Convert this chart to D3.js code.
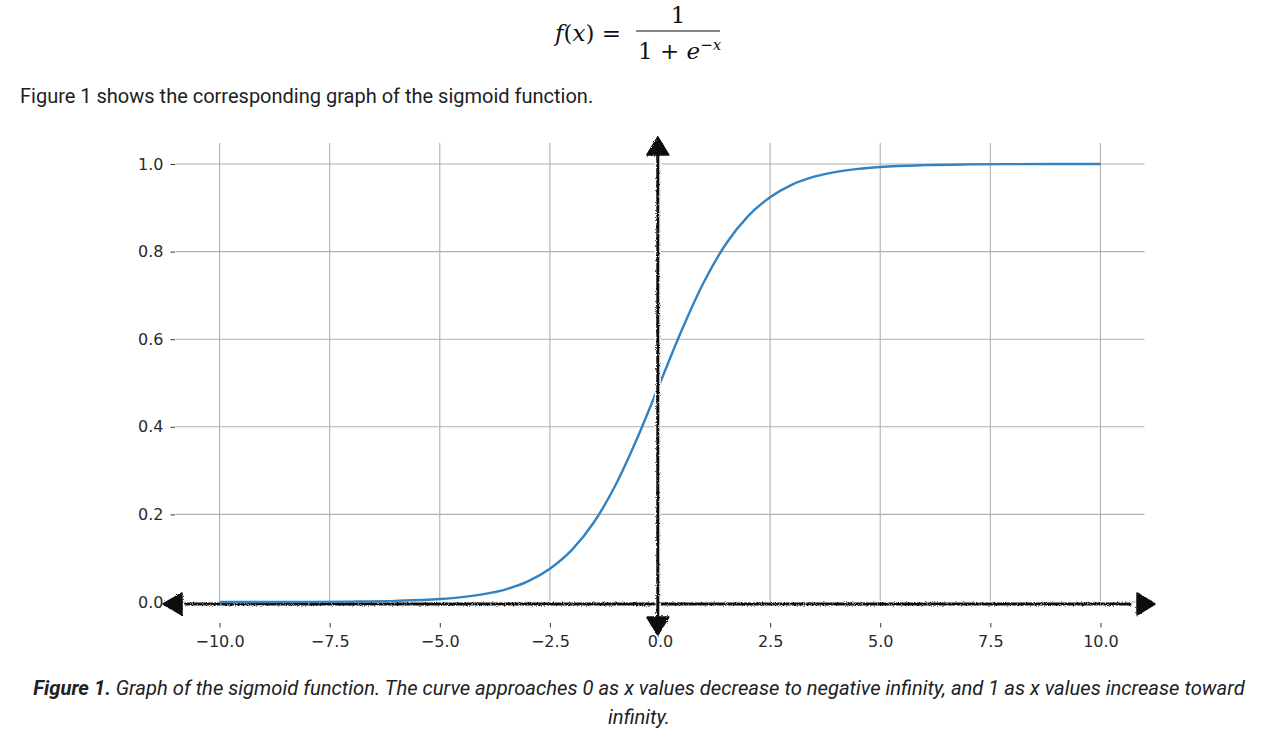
<!DOCTYPE html>
<html lang="en">
    <head>
        <meta charset="utf-8" />
        <title>Sigmoid</title>
        <script src="https://cdn.jsdelivr.net/npm/d3@7/dist/d3.min.js"></script>
        <style type="text/css">
            body { margin: 0; background: #fff; }
            svg { display: block; }
        </style>
    </head>
    <body>
        <script type="text/javascript">
            // values
            var xs = [-10, -9, -8, -7, -6, -5, -4.5, -4, -3.5, -3, -2.5, -2, -1.5, -1, -0.5, 0,
                      0.5, 1, 1.5, 2, 2.5, 3, 3.5, 4, 4.5, 5, 6, 7, 8, 9, 10];
            var ys = [0.0000, 0.0001, 0.0003, 0.0009, 0.0025, 0.0067, 0.011, 0.018, 0.029, 0.047, 0.076, 0.119, 0.182, 0.269, 0.378, 0.500,
                      0.622, 0.731, 0.818, 0.881, 0.924, 0.953, 0.971, 0.982, 0.989, 0.9933, 0.9975, 0.9991, 0.9997, 0.9999, 1.0000];
            var xTicks = [-10, -7.5, -5, -2.5, 0, 2.5, 5, 7.5, 10];
            var yTicks = [0, 0.2, 0.4, 0.6, 0.8, 1.0];

            var W = 1261, H = 736;
            var svg = d3.select("body").append("svg")
                .attr("width", W)
                .attr("height", H);

            // formula
            var fx = svg.append("g")
                .style("font-family", "'DejaVu Serif', 'Liberation Serif', serif")
                .style("font-size", "23px")
                .attr("fill", "#111");
            fx.append("text").attr("x", 555).attr("y", 41)
                .html("<tspan font-style='italic'>f</tspan>(<tspan font-style='italic'>x</tspan>) =");
            fx.append("line").attr("x1", 636).attr("x2", 720).attr("y1", 31).attr("y2", 31)
                .attr("stroke", "#111").attr("stroke-width", 1.2);
            fx.append("text").attr("x", 678).attr("y", 23).attr("text-anchor", "middle").text("1");
            var den = fx.append("text").attr("x", 638).attr("y", 59);
            den.append("tspan").text("1 + ");
            den.append("tspan").attr("font-style", "italic").text("e");
            den.append("tspan").attr("dy", -9).style("font-size", "15px").text("−");
            den.append("tspan").style("font-size", "15px").attr("font-style", "italic").text("x");

            // intro line
            svg.append("text")
                .attr("x", 20).attr("y", 103)
                .style("font-family", "Roboto, sans-serif")
                .style("font-size", "20px")
                .attr("fill", "#202124")
                .text("Figure 1 shows the corresponding graph of the sigmoid function.");

            // chart
            var x = d3.scaleLinear().domain([-11, 11]).range([175.5, 1144.5]);
            var y = d3.scaleLinear().domain([0, 1]).range([602, 164]);
            var gridTop = 143, gridBottom = 606;

            var grid = svg.append("g").attr("stroke", "#b0b0b0").attr("stroke-width", 1.1);
            grid.selectAll(".gx").data(xTicks).enter().append("line")
                .attr("x1", function (d) { return x(d); })
                .attr("x2", function (d) { return x(d); })
                .attr("y1", gridTop).attr("y2", gridBottom);
            grid.selectAll(".gy").data(yTicks).enter().append("line")
                .attr("x1", x(-11)).attr("x2", x(11))
                .attr("y1", function (d) { return y(d); })
                .attr("y2", function (d) { return y(d); });

            var fmt = d3.format(".1f");
            var xAxis = svg.append("g")
                .attr("transform", "translate(0,623)")
                .call(d3.axisBottom(x).tickValues(xTicks).tickSize(4.5).tickPadding(8)
                    .tickFormat(function (d) { return fmt(d).replace("-", "−"); }));
            var yAxis = svg.append("g")
                .attr("transform", "translate(175,0)")
                .call(d3.axisLeft(y).tickValues(yTicks).tickSize(4.5).tickPadding(7).tickFormat(fmt));
            [xAxis, yAxis].forEach(function (a) {
                a.select(".domain").remove();
                a.selectAll("line").attr("stroke", "#333");
                a.selectAll("text")
                    .attr("fill", "#2a2a2a")
                    .style("font-family", "'DejaVu Sans', sans-serif")
                    .style("font-size", "16px");
            });

            // sigmoid curve
            var pts = xs.map(function (v, i) { return [v, ys[i]]; });
            var line = d3.line()
                .x(function (d) { return x(d[0]); })
                .y(function (d) { return y(d[1]); })
                .curve(d3.curveMonotoneX);

            // sketchy black axes with arrows
            var defs = svg.append("defs");
            var f = defs.append("filter").attr("id", "rough")
                .attr("filterUnits", "userSpaceOnUse")
                .attr("x", 0).attr("y", 0).attr("width", W).attr("height", H);
            f.append("feTurbulence").attr("type", "fractalNoise").attr("baseFrequency", 0.9)
                .attr("numOctaves", 2).attr("result", "n");
            f.append("feDisplacementMap").attr("in", "SourceGraphic").attr("in2", "n")
                .attr("scale", 3);

            var ax = svg.append("g").attr("filter", "url(#rough)");
            var x0 = x(-10.8), x1 = x(10.7), y0 = y(0) + 2;
            var vx = x(-0.05), vt = y(1.04), vb = y(-0.06);
            // white halo
            ax.append("line").attr("x1", x0).attr("x2", x1).attr("y1", y0).attr("y2", y0)
                .attr("stroke", "#fff").attr("stroke-width", 6);
            ax.append("line").attr("x1", x0).attr("x2", x1).attr("y1", y0).attr("y2", y0)
                .attr("stroke", "#111").attr("stroke-width", 3);

            svg.append("path").datum(pts)
                .attr("d", line)
                .attr("fill", "none")
                .attr("stroke", "#3283c4")
                .attr("stroke-width", 2.4);

            var ax2 = svg.append("g").attr("filter", "url(#rough)");
            ax2.append("line").attr("x1", vx).attr("x2", vx).attr("y1", vt).attr("y2", vb)
                .attr("stroke", "#fff").attr("stroke-width", 6);
            ax2.append("line").attr("x1", vx).attr("x2", vx).attr("y1", vt).attr("y2", vb)
                .attr("stroke", "#111").attr("stroke-width", 3);
            // arrow heads
            var heads = [
                [[163, y0], [182, y0 - 11], [182, y0 + 11]],
                [[1155, y0], [1137, y0 - 11], [1137, y0 + 11]],
                [[vx, 137], [vx - 11, 155], [vx + 11, 155]],
                [[vx, 635], [vx - 11, 617], [vx + 11, 617]]
            ];
            ax2.selectAll("polygon").data(heads).enter().append("polygon")
                .attr("points", function (d) { return d.map(function (p) { return p.join(","); }).join(" "); })
                .attr("fill", "#111")
                .attr("stroke", "#111")
                .attr("stroke-width", 1.5)
                .attr("stroke-linejoin", "round");

            // caption
            var cap = svg.append("g")
                .style("font-family", "Roboto, sans-serif")
                .style("font-size", "20.2px")
                .attr("fill", "#202124")
                .attr("text-anchor", "middle");
            var c1 = cap.append("text").attr("x", 639).attr("y", 695);
            c1.append("tspan").attr("font-weight", "bold").attr("font-style", "italic").text("Figure 1.");
            c1.append("tspan").attr("font-style", "italic")
                .text(" Graph of the sigmoid function. The curve approaches 0 as x values decrease to negative infinity, and 1 as x values increase toward");
            cap.append("text").attr("x", 639).attr("y", 724).attr("font-style", "italic").text("infinity.");
        </script>
    </body>
</html>
